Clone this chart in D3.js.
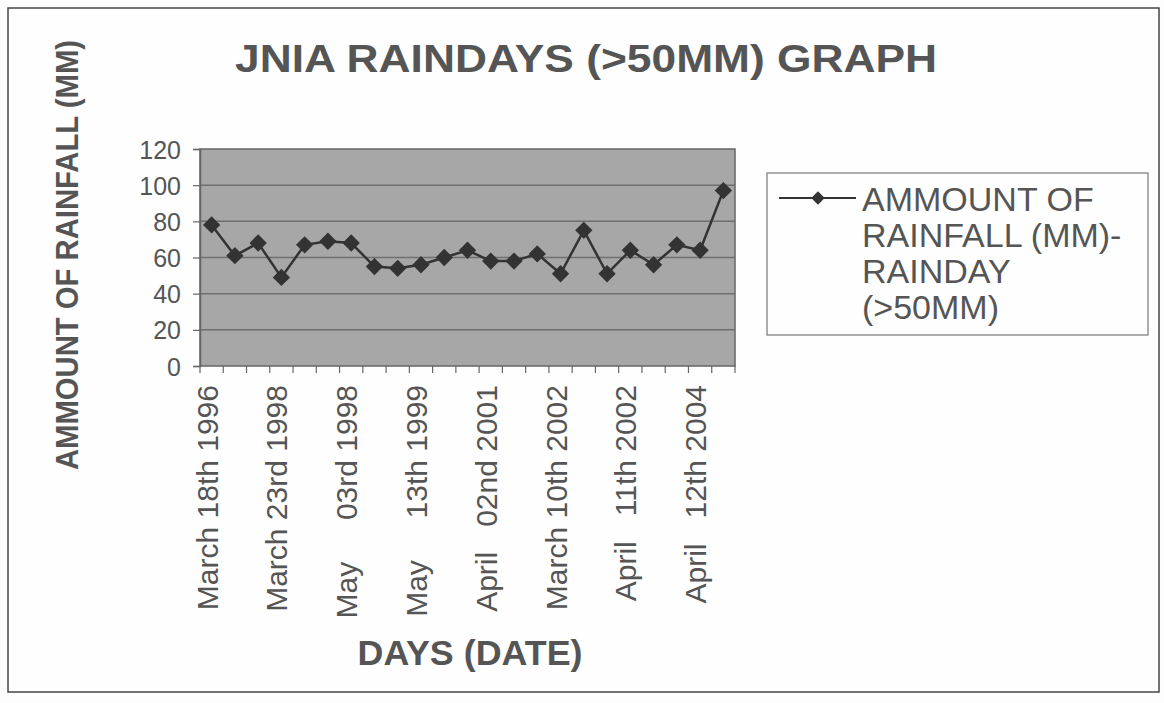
<!DOCTYPE html>
<html>
<head>
<meta charset="utf-8">
<script src="https://cdn.jsdelivr.net/npm/d3@7/dist/d3.min.js"></script>
<style>
  html, body { margin: 0; padding: 0; background: #fdfdfd; }
  svg { display: block; font-family: "Liberation Sans", Arial, sans-serif; }
</style>
</head>
<body>
<svg id="chart" width="1164" height="703"></svg>
<script>
// ---- data ----
const categories = d3.range(1, 24).map(i => "c" + i);
const categoryLabels = [
  "March 18th 1996", "", "",
  "March 23rd 1998", "", "",
  "May     03rd 1998", "", "",
  "May     13th 1999", "", "",
  "April   02nd 2001", "", "",
  "March 10th 2002", "", "",
  "April   11th 2002", "", "",
  "April   12th 2004", ""
];
const rainfall = [78, 61, 68, 49, 67, 69, 68, 55, 54, 56, 60, 64, 58, 58, 62, 51, 75, 51, 64, 56, 67, 64, 97];
const yTicks = [0, 20, 40, 60, 80, 100, 120];
const titleText = "JNIA RAINDAYS (>50MM) GRAPH";
const yTitle = "AMMOUNT OF RAINFALL (MM)";
const xTitle = "DAYS (DATE)";
const legendLines = ["AMMOUNT OF", "RAINFALL (MM)-", "RAINDAY", "(>50MM)"];

// ---- layout ----
const svg = d3.select("#chart");
const plot = { left: 200, right: 735, top: 149, bottom: 366 };
const textColor = "#555";

// outer frame
svg.append("rect").attr("x", 8).attr("y", 8).attr("width", 1151).attr("height", 684)
  .attr("fill", "#fefefe").attr("stroke", "#444").attr("stroke-width", 1.5);

const x = d3.scaleBand().domain(categories).range([plot.left, plot.right]).padding(0);
const y = d3.scaleLinear().domain([0, 120]).range([plot.bottom, plot.top]);

// plot area
svg.append("rect").attr("x", plot.left).attr("y", plot.top)
  .attr("width", plot.right - plot.left).attr("height", plot.bottom - plot.top)
  .attr("fill", "#a7a7a7");

// gridlines
svg.append("g").selectAll("line").data(yTicks.filter(t => t > 0 && t < 120)).join("line")
  .attr("x1", plot.left).attr("x2", plot.right)
  .attr("y1", d => y(d)).attr("y2", d => y(d))
  .attr("stroke", "#6f6f6f").attr("stroke-width", 1.5);

svg.append("rect").attr("x", plot.left).attr("y", plot.top)
  .attr("width", plot.right - plot.left).attr("height", plot.bottom - plot.top)
  .attr("fill", "none").attr("stroke", "#666").attr("stroke-width", 1.5);

// y axis
const yAxis = d3.axisLeft(y).tickValues(yTicks).tickSize(7).tickPadding(12);
const yg = svg.append("g").attr("transform", `translate(${plot.left},0)`).call(yAxis);
yg.select(".domain").attr("stroke", "#666").attr("stroke-width", 1.5);
yg.selectAll(".tick line").attr("stroke", "#666").attr("stroke-width", 1.2);
yg.selectAll(".tick text").attr("font-size", 25).attr("fill", textColor)
  .attr("font-family", "Liberation Sans, Arial, sans-serif").attr("dy", "0.36em");

// x axis ticks (category boundaries)
const boundaries = categories.map(c => x(c)).concat([plot.right]);
svg.append("g").selectAll("line").data(boundaries).join("line")
  .attr("x1", d => d).attr("x2", d => d)
  .attr("y1", plot.bottom).attr("y2", plot.bottom + 7)
  .attr("stroke", "#666").attr("stroke-width", 1.2);

// x tick labels
svg.append("g").selectAll("text").data(categories.map((c, i) => ({ c, label: categoryLabels[i] })).filter(d => d.label))
  .join("text")
  .attr("transform", d => `translate(${x(d.c) + x.bandwidth() / 2 + 6},${plot.bottom + 19}) rotate(-90)`)
  .attr("text-anchor", "end")
  .attr("font-size", 30)
  .attr("fill", textColor)
  .style("white-space", "pre")
  .attr("xml:space", "preserve")
  .text(d => d.label);

// line + markers
const line = d3.line().x((d, i) => x(categories[i]) + x.bandwidth() / 2).y(d => y(d));
svg.append("path").datum(rainfall).attr("d", line)
  .attr("fill", "none").attr("stroke", "#333").attr("stroke-width", 2.5);

const diamond = d3.symbol(d3.symbolSquare, 150);
svg.append("g").selectAll("path").data(rainfall).join("path")
  .attr("d", diamond)
  .attr("transform", (d, i) => `translate(${x(categories[i]) + x.bandwidth() / 2},${y(d)}) rotate(45)`)
  .attr("fill", "#333");

// title
svg.append("text").attr("x", 586).attr("y", 72).attr("text-anchor", "middle")
  .attr("font-size", 38).attr("font-weight", "bold").attr("fill", textColor)
  .attr("textLength", 702).attr("lengthAdjust", "spacingAndGlyphs")
  .text(titleText);

// y title
svg.append("text").attr("transform", "translate(78,255) rotate(-90)").attr("text-anchor", "middle")
  .attr("font-size", 32).attr("font-weight", "bold").attr("fill", textColor)
  .attr("textLength", 430).attr("lengthAdjust", "spacingAndGlyphs")
  .text(yTitle);

// x title
svg.append("text").attr("x", 470).attr("y", 665).attr("text-anchor", "middle")
  .attr("font-size", 35).attr("font-weight", "bold").attr("fill", textColor)
  .attr("textLength", 225).attr("lengthAdjust", "spacingAndGlyphs")
  .text(xTitle);

// legend
const lg = svg.append("g");
lg.append("rect").attr("x", 767).attr("y", 173).attr("width", 381).attr("height", 162)
  .attr("fill", "#fefefe").attr("stroke", "#777").attr("stroke-width", 1.2);
lg.append("line").attr("x1", 779).attr("x2", 856).attr("y1", 198).attr("y2", 198)
  .attr("stroke", "#333").attr("stroke-width", 2);
lg.append("path").attr("d", d3.symbol(d3.symbolSquare, 90))
  .attr("transform", "translate(818,198) rotate(45)").attr("fill", "#333");
lg.selectAll("text.leg").data(legendLines).join("text").attr("class", "leg")
  .attr("x", 862).attr("y", (d, i) => 211 + i * 36)
  .attr("font-size", 34).attr("fill", textColor)
  .text(d => d);
</script>
</body>
</html>
